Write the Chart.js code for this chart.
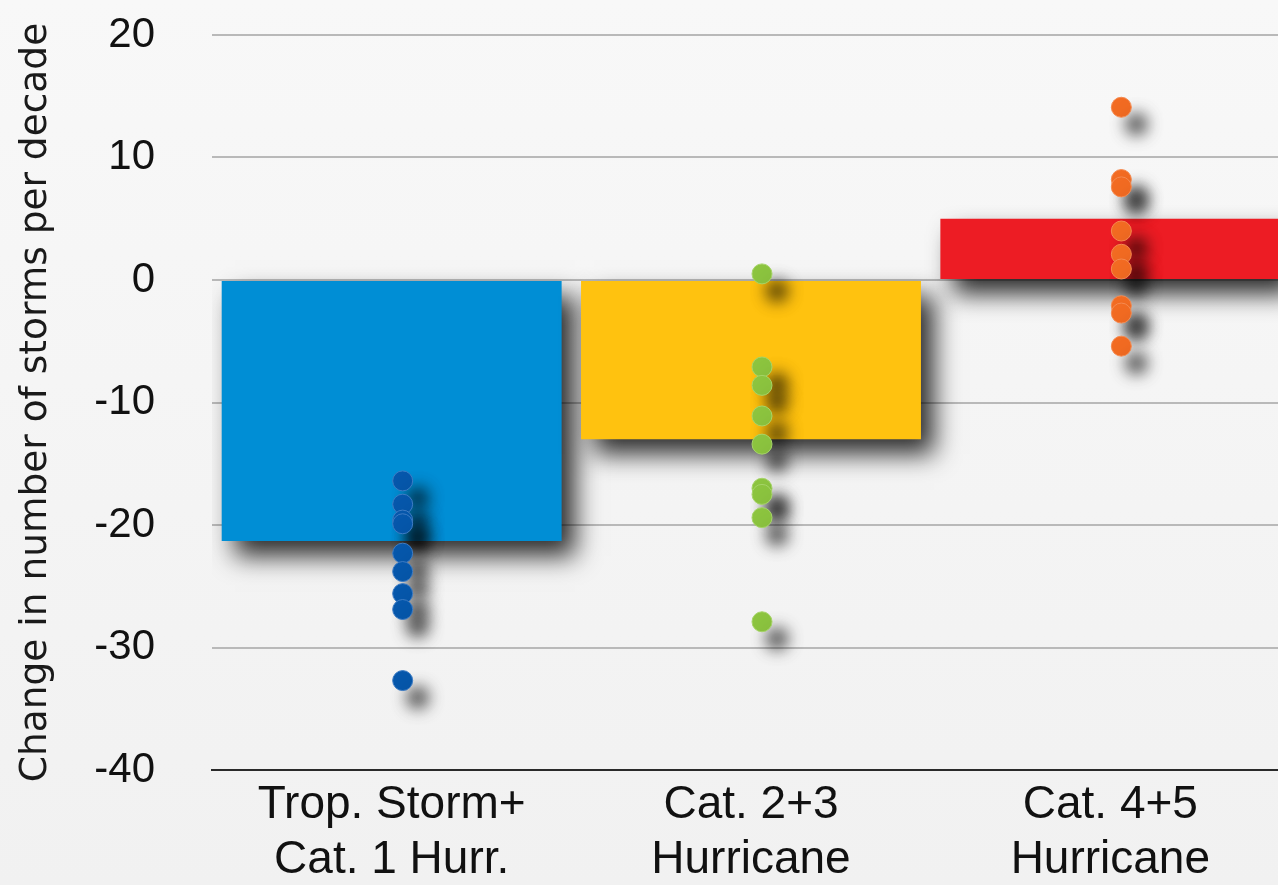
<!DOCTYPE html>
<html>
<head>
<meta charset="utf-8">
<script src="https://cdn.jsdelivr.net/npm/chart.js@4/dist/chart.umd.min.js"></script>
<style>
  html, body { margin: 0; padding: 0; background: #f4f4f4; overflow: hidden; }
  #wrap { position: absolute; left: 0; top: 0; width: 1301px; height: 885px; }
  #c { display: block; width: 1301px; height: 885px; }
</style>
</head>
<body>
<div id="wrap"><canvas id="c" width="1301" height="885"></canvas></div>
<script>
// Storm categories; '|' separates the two lines of each axis label
const categories = ['Trop. Storm+|Cat. 1 Hurr.', 'Cat. 2+3|Hurricane', 'Cat. 4+5|Hurricane'];
// Ensemble-mean change per category (bars)
const meanChange = [-21.3, -13.0, 5.0];
// Individual model projections per category (dots)
const tsCat1Models = [-16.4, -18.3, -19.6, -19.9, -22.3, -23.8, -25.6, -26.9, -32.7];
const cat23Models = [0.5, -7.1, -8.6, -11.1, -13.4, -17.0, -17.5, -19.4, -27.9];
const cat45Models = [14.1, 8.2, 7.6, 4.0, 2.1, 0.9, -2.1, -2.7, -5.4];
// Value axis ticks
const yTicks = [20, 10, 0, -10, -20, -30, -40];

const barColors = ['#008ED5', '#FFC20F', '#ED1C24'];
const dotColors = ['#0657AB', '#8CC43F', '#F26B22'];
const dotBorders = ['#3E7CC4', '#A6D468', '#F58A50'];

const toPoints = (vals, i) => vals.map(v => ({ x: categories[i], y: v }));

const backdrop = {
  id: 'backdrop',
  beforeDraw(chart) {
    const { ctx, width, height } = chart;
    const g = ctx.createLinearGradient(0, 0, 0, height);
    g.addColorStop(0, '#f8f8f8');
    g.addColorStop(1, '#f1f1f1');
    ctx.save();
    ctx.fillStyle = g;
    ctx.fillRect(0, 0, width, height);
    ctx.restore();
  }
};

// The dot columns sit slightly right of the bar centres
const dotColumnShift = {
  id: 'dotColumnShift',
  afterDatasetUpdate(chart, args) {
    if (args.meta.type !== 'line') return;
    args.meta.data.forEach(p => { p.x += 11; });
  }
};

// Soft drop shadows under bars and dots
const dropShadow = {
  id: 'dropShadow',
  beforeDatasetDraw(chart, args) {
    const ctx = chart.ctx;
    ctx.save();
    if (args.meta.type === 'bar') {
      ctx.shadowColor = 'rgba(0,0,0,0.82)';
      ctx.shadowBlur = 24;
      ctx.shadowOffsetX = 13;
      ctx.shadowOffsetY = 15;
    } else {
      ctx.shadowColor = 'rgba(0,0,0,0.75)';
      ctx.shadowBlur = 16;
      ctx.shadowOffsetX = 15;
      ctx.shadowOffsetY = 17;
    }
  },
  afterDatasetDraw(chart) {
    chart.ctx.restore();
  }
};

const dotSet = (vals, i) => ({
  type: 'line',
  data: toPoints(vals, i),
  showLine: false,
  pointRadius: 10,
  pointHoverRadius: 10,
  pointBackgroundColor: dotColors[i],
  pointBorderColor: dotBorders[i],
  pointBorderWidth: 1,
  clip: false,
  order: 0
});

new Chart(document.getElementById('c'), {
  type: 'bar',
  data: {
    labels: categories,
    datasets: [
      {
        type: 'bar',
        data: meanChange,
        backgroundColor: barColors,
        borderWidth: 0,
        barPercentage: 0.946,
        categoryPercentage: 1.0,
        order: 1
      },
      dotSet(tsCat1Models, 0),
      dotSet(cat23Models, 1),
      dotSet(cat45Models, 2)
    ]
  },
  options: {
    responsive: false,
    maintainAspectRatio: false,
    devicePixelRatio: 1,
    animation: false,
    events: [],
    layout: { padding: { top: 35, right: 0, left: 0, bottom: 0 } },
    plugins: { legend: { display: false }, tooltip: { enabled: false } },
    scales: {
      x: {
        type: 'category',
        grid: { display: false, drawTicks: false },
        border: { display: true, color: '#2a2a2a', width: 2 },
        ticks: {
          color: '#111',
          padding: 8,
          font: { family: 'Liberation Sans, Arial, sans-serif', size: 46, lineHeight: 1.2 },
          maxRotation: 0,
          autoSkip: false,
          callback(value) { return this.getLabelForValue(value).split('|'); }
        },
        afterFit(scale) { scale.height = 115; }
      },
      y: {
        min: -40,
        max: 20,
        afterBuildTicks(scale) { scale.ticks = yTicks.map(v => ({ value: v })); },
        grid: {
          drawTicks: true,
          tickLength: 57,
          tickColor: 'rgba(0,0,0,0)',
          color: ctx => ctx.tick && ctx.tick.value === -40 ? 'rgba(0,0,0,0)' : '#b9b9b9',
          lineWidth: 2
        },
        border: { display: false },
        ticks: {
          color: '#111',
          padding: 0,
          font: { family: 'Liberation Sans, Arial, sans-serif', size: 42 }
        },
        title: {
          display: true,
          text: 'Change in number of storms per decade',
          color: '#1a1a1a',
          padding: { top: 14, bottom: 0 },
          font: { family: 'DejaVu Sans, sans-serif', size: 37.5 }
        },
        afterFit(scale) { scale.width = 212; }
      }
    }
  },
  plugins: [backdrop, dotColumnShift, dropShadow]
});
</script>
</body>
</html>
